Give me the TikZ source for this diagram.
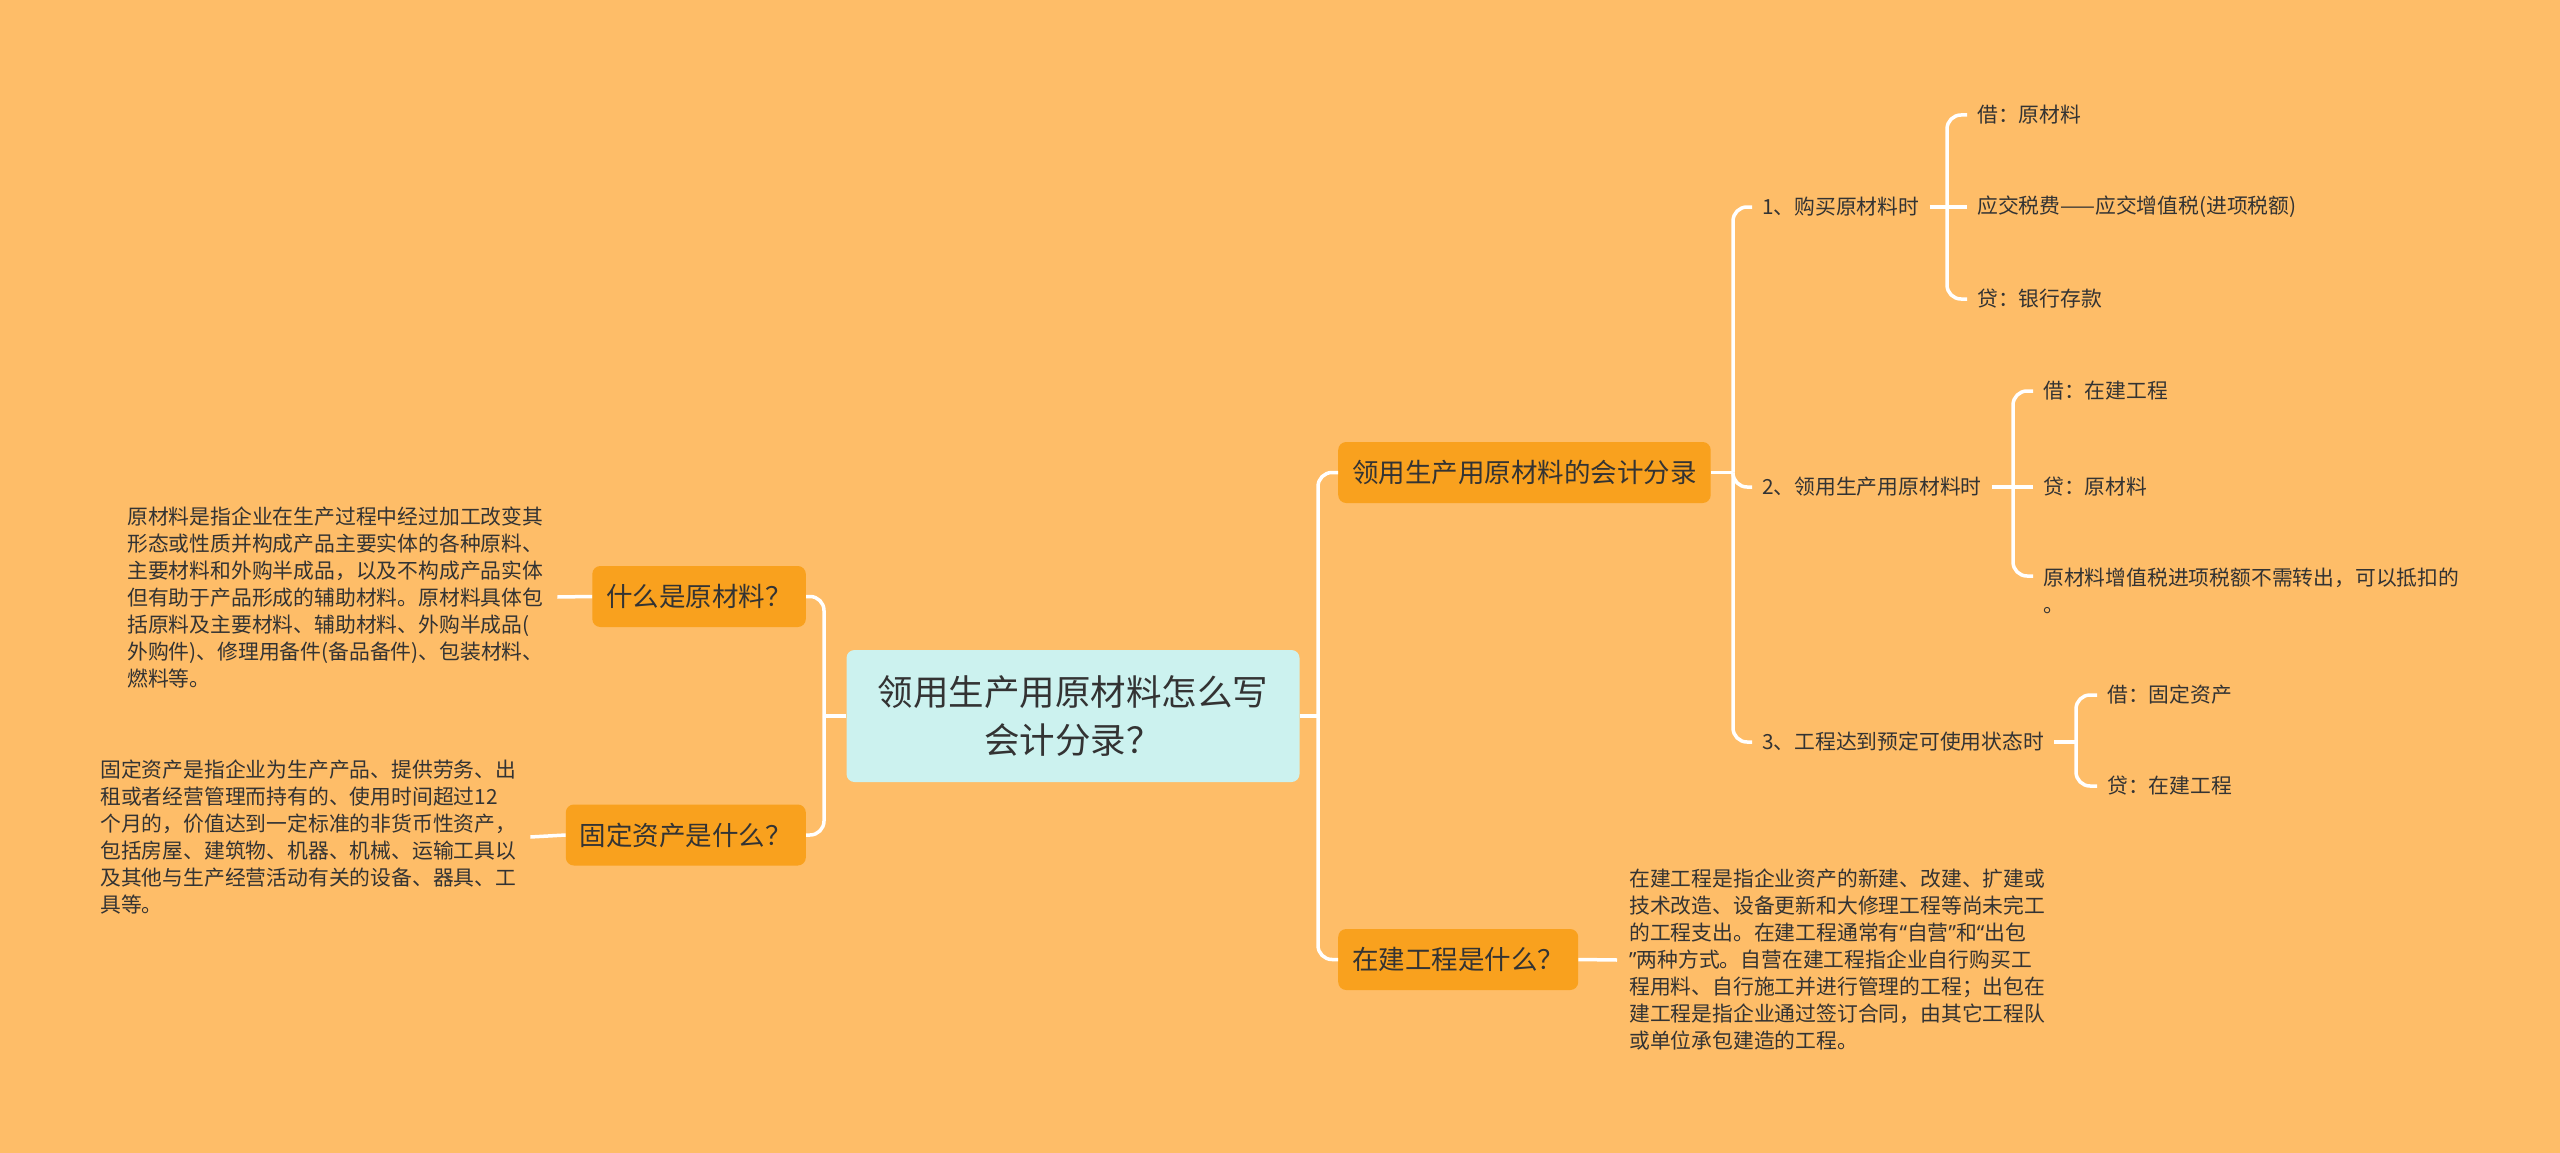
\documentclass[tikz,border=0pt]{standalone}
\usepackage{fontspec}
\setmainfont{Noto Sans CJK SC}
\newfontfamily\quotefont{Noto Sans}
\definecolor{bgorange}{HTML}{FEBD68}
\definecolor{topicorange}{HTML}{F9A11E}
\definecolor{rootcyan}{HTML}{CCF2EF}
\definecolor{inkgray}{HTML}{333333}
\newcommand\rootsize{\fontsize{35.5pt}{48pt}\selectfont}
\newcommand\topicsize{\fontsize{26.5pt}{32pt}\selectfont}
\newcommand\notesize{\fontsize{20.8pt}{27pt}\selectfont}
\newcommand\openq{{\quotefont “}}
\newcommand\closeq{{\quotefont ”}}

\begin{document}
\begin{tikzpicture}[x=1pt,y=-1pt,
    every node/.style={text=inkgray,inner sep=0pt},
    root/.style={fill=rootcyan,rounded corners=8pt,minimum width=453pt,minimum height=132pt,align=center,font=\rootsize},
    topic/.style={fill=topicorange,rounded corners=8pt,minimum height=61pt,inner xsep=14pt,font=\topicsize},
    note/.style={text width=418pt,inner xsep=12pt,align=left,font=\notesize},
    leaf/.style={anchor=west,inner xsep=10pt,inner ysep=4pt,font=\notesize},
    link/.style={draw=white,line width=3.5pt,rounded corners=14pt}]

    \fill[bgorange] (0,0) rectangle (2560,1153);

    % centre
    \node[root] (root) at (1073,716) {领用生产用原材料怎么写\\会计分录？};

    % left side
    \node[topic,anchor=east] (rawq) at (806,596.5) {什么是原材料？};
    \node[topic,anchor=east] (fixq) at (806,835) {固定资产是什么？};
    \node[note,anchor=west] (rawnote) at (115,597) {原材料是指企业在生产过程中经过加工改变其\\
        形态或性质并构成产品主要实体的各种原料、\\
        主要材料和外购半成品，以及不构成产品实体\\
        但有助于产品形成的辅助材料。原材料具体包\\
        括原料及主要材料、辅助材料、外购半成品(\\
        外购件)、修理用备件(备品备件)、包装材料、\\
        燃料等。};
    \node[note,anchor=west] (fixnote) at (88,837) {固定资产是指企业为生产产品、提供劳务、出\\
        租或者经营管理而持有的、使用时间超过12\\
        个月的，价值达到一定标准的非货币性资产，\\
        包括房屋、建筑物、机器、机械、运输工具以\\
        及其他与生产经营活动有关的设备、器具、工\\
        具等。};

    % right side
    \node[topic,anchor=west] (entry) at (1338,472.5) {领用生产用原材料的会计分录};
    \node[topic,anchor=west] (wipq) at (1338,959.5) {在建工程是什么？};
    \node[note,anchor=west] (wipnote) at (1617,960) {在建工程是指企业资产的新建、改建、扩建或\\
        技术改造、设备更新和大修理工程等尚未完工\\
        的工程支出。在建工程通常有\openq 自营\closeq 和\openq 出包\\
        \closeq 两种方式。自营在建工程指企业自行购买工\\
        程用料、自行施工并进行管理的工程；出包在\\
        建工程是指企业通过签订合同，由其它工程队\\
        或单位承包建造的工程。};

    \node[leaf] (buy) at (1752,207) {1、购买原材料时};
    \node[leaf] (use) at (1752,487) {2、领用生产用原材料时};
    \node[leaf] (done) at (1752,742) {3、工程达到预定可使用状态时};

    \node[leaf] (buyA) at (1967,115) {借：原材料};
    \node[leaf] (buyB) at (1967,207) {应交税费——应交增值税(进项税额)};
    \node[leaf] (buyC) at (1967,299) {贷：银行存款};

    \node[leaf] (useA) at (2033,391) {借：在建工程};
    \node[leaf] (useB) at (2033,487) {贷：原材料};
    \node[leaf,align=left] (useC) at (2033,591) {原材料增值税进项税额不需转出，可以抵扣的\\。};

    \node[leaf] (doneA) at (2097,695) {借：固定资产};
    \node[leaf] (doneB) at (2097,786) {贷：在建工程};

    % joints
    \coordinate (lj) at (824,716);
    \coordinate (rj) at (1318,716);
    \coordinate (ej) at (1733,472.5);
    \coordinate (bj) at (1947,207);
    \coordinate (uj) at (2013,487);
    \coordinate (dj) at (2076,742);

    \draw[link] (root.west) -- (lj);
    \draw[link] (lj) |- (rawq.east);
    \draw[link] (lj) |- (fixq.east);
    \draw[link] (rawq.west) -- (rawnote.east);
    \draw[link] (fixq.west) -- (fixnote.east);

    \draw[link] (root.east) -- (rj);
    \draw[link] (rj) |- (entry.west);
    \draw[link] (rj) |- (wipq.west);
    \draw[link] (wipq.east) -- (wipnote.west);

    \draw[link] (entry.east) -- (ej);
    \draw[link] (ej) |- (buy.west);
    \draw[link] (ej) |- (use.west);
    \draw[link] (ej) |- (done.west);

    \draw[link] (buy.east) -- (bj);
    \draw[link] (bj) |- (buyA.west);
    \draw[link] (bj) -- (buyB.west);
    \draw[link] (bj) |- (buyC.west);

    \draw[link] (use.east) -- (uj);
    \draw[link] (uj) |- (useA.west);
    \draw[link] (uj) -- (useB.west);
    \draw[link] (uj) |- ([yshift=15pt]useC.west);

    \draw[link] (done.east) -- (dj);
    \draw[link] (dj) |- (doneA.west);
    \draw[link] (dj) |- (doneB.west);
\end{tikzpicture}
\end{document}
